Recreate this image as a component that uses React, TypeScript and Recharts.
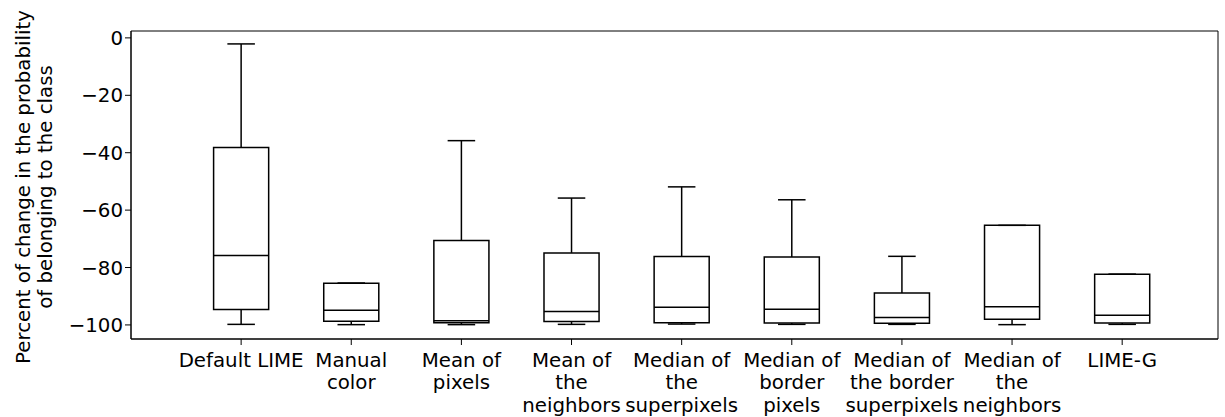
import React from "react";
import {
  ComposedChart,
  XAxis,
  YAxis,
  Scatter,
  ReferenceArea,
  ReferenceLine,
} from "recharts";

const categories = [
  "Default LIME",
  "Manual\ncolor",
  "Mean of\npixels",
  "Mean of\nthe\nneighbors",
  "Median of\nthe\nsuperpixels",
  "Median of\nborder\npixels",
  "Median of\nthe border\nsuperpixels",
  "Median of\nthe\nneighbors",
  "LIME-G",
];
const whiskerLow = [-99.8, -99.9, -99.9, -99.8, -99.7, -99.8, -99.8, -99.9, -99.8];
const q1 = [-94.6, -98.7, -99.2, -98.8, -99.2, -99.3, -99.4, -98.0, -99.3];
const median = [-75.8, -94.9, -98.5, -95.3, -93.8, -94.5, -97.4, -93.7, -96.6];
const q3 = [-38.2, -85.5, -70.6, -74.9, -76.2, -76.3, -88.9, -65.3, -82.3];
const whiskerHigh = [-2.1, -85.4, -35.8, -55.8, -51.9, -56.4, -76.1, -65.3, -82.3];
const yTicks = [0, -20, -40, -60, -80, -100];

const FONT = "'DejaVu Sans', sans-serif";
const FS = 19.8;

const points = categories.map((c, i) => ({ x: i + 1, y: median[i], name: c }));

const XTick = (props: any) => {
  const { x, y, payload } = props;
  const lines = categories[payload.value - 1].split("\n");
  return (
    <text x={x} y={y} textAnchor="middle" fontFamily={FONT} fontSize={FS} fill="#000">
      {lines.map((l, k) => (
        <tspan key={k} x={x} dy={k === 0 ? 20 : 22.4}>
          {l}
        </tspan>
      ))}
    </text>
  );
};

const fmt = (v: number) => (v < 0 ? "\u2212" + Math.abs(v) : String(v));

const YLabel = (props: any) => {
  const vb = props.viewBox || {};
  const cy = (vb.y || 31) + (vb.height || 308) / 2 + 2;
  return (
    <text
      transform={`translate(0, ${cy}) rotate(-90)`}
      textAnchor="middle"
      fontFamily={FONT}
      fontSize={FS}
      fill="#000"
    >
      <tspan x={0} y={29.5}>Percent of change in the probability</tspan>
      <tspan x={0} y={52}>of belonging to the class</tspan>
    </text>
  );
};

export default function App() {
  const half = 0.25;
  const cap = 0.125;
  return (
    <div style={{ position: "absolute", left: 0, top: 0, background: "#fff" }}>
      <ComposedChart
        width={1225}
        height={417}
        data={points}
        margin={{ top: 31, right: 7, left: 0, bottom: 0 }}
      >
        <XAxis
          dataKey="x"
          type="number"
          domain={[0, 9.87]}
          ticks={[1, 2, 3, 4, 5, 6, 7, 8, 9]}
          interval={0}
          allowDataOverflow
          height={78}
          tick={<XTick />}
          tickSize={6}
          stroke="#000"
          axisLine={{ stroke: "#000", strokeWidth: 1 }}
          tickLine={{ stroke: "#000" }}
        />
        <YAxis
          dataKey="y"
          type="number"
          domain={[-104.9, 2.4]}
          ticks={yTicks}
          interval={0}
          allowDataOverflow
          width={131}
          tickSize={6}
          tickFormatter={fmt}
          tick={{ fill: "#000", fontSize: FS, fontFamily: FONT }}
          axisLine={{ stroke: "#000", strokeWidth: 1 }}
          tickLine={{ stroke: "#000" }}
          label={<YLabel />}
        />
        {/* top and right spines */}
        <ReferenceArea
          x1={0}
          x2={9.87}
          y1={-104.9}
          y2={2.4}
          fill="none"
          stroke="#000"
          strokeWidth={1}
          ifOverflow="visible"
        />
        {categories.map((c, i) => (
          <ReferenceArea
            key={"box" + i}
            x1={i + 1 - half}
            x2={i + 1 + half}
            y1={q1[i]}
            y2={q3[i]}
            fill="none"
            stroke="#000"
            strokeWidth={1.5}
            ifOverflow="visible"
          />
        ))}
        {categories.map((c, i) => (
          <ReferenceLine
            key={"med" + i}
            segment={[
              { x: i + 1 - half, y: median[i] },
              { x: i + 1 + half, y: median[i] },
            ]}
            stroke="#000"
            strokeWidth={1.5}
            ifOverflow="visible"
          />
        ))}
        {categories.map((c, i) => (
          <ReferenceLine
            key={"wh" + i}
            segment={[
              { x: i + 1, y: q3[i] },
              { x: i + 1, y: whiskerHigh[i] },
            ]}
            stroke="#000"
            strokeWidth={1.5}
            ifOverflow="visible"
          />
        ))}
        {categories.map((c, i) => (
          <ReferenceLine
            key={"wl" + i}
            segment={[
              { x: i + 1, y: q1[i] },
              { x: i + 1, y: whiskerLow[i] },
            ]}
            stroke="#000"
            strokeWidth={1.5}
            ifOverflow="visible"
          />
        ))}
        {categories.map((c, i) => (
          <ReferenceLine
            key={"ch" + i}
            segment={[
              { x: i + 1 - cap, y: whiskerHigh[i] },
              { x: i + 1 + cap, y: whiskerHigh[i] },
            ]}
            stroke="#000"
            strokeWidth={1.5}
            ifOverflow="visible"
          />
        ))}
        {categories.map((c, i) => (
          <ReferenceLine
            key={"cl" + i}
            segment={[
              { x: i + 1 - cap, y: whiskerLow[i] },
              { x: i + 1 + cap, y: whiskerLow[i] },
            ]}
            stroke="#000"
            strokeWidth={1.5}
            ifOverflow="visible"
          />
        ))}
        <Scatter dataKey="y" shape={() => null} isAnimationActive={false} />
      </ComposedChart>
    </div>
  );
}
